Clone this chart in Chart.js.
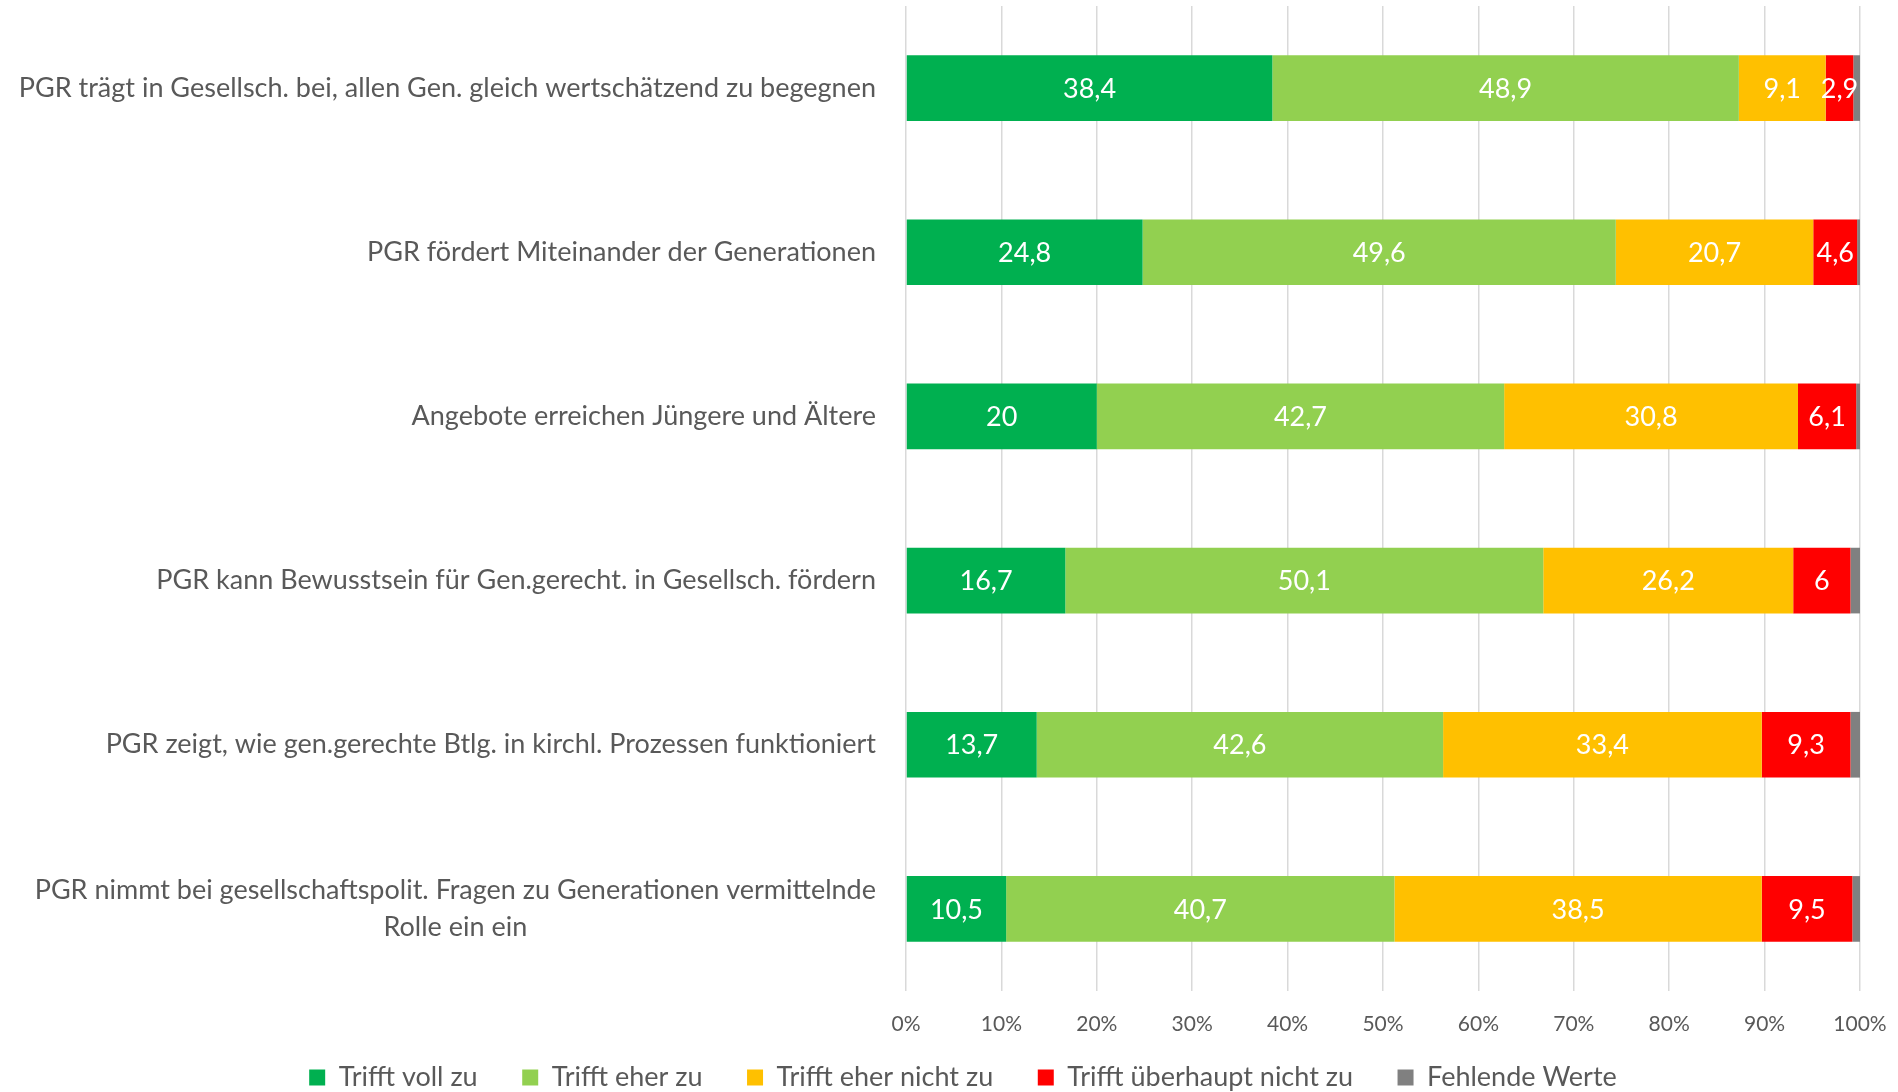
<!DOCTYPE html>
<html>
<head>
<meta charset="utf-8">
<script src="https://cdn.jsdelivr.net/npm/chart.js@4.4.1/dist/chart.umd.min.js"></script>
<style>
  html, body { margin: 0; padding: 0; background: #ffffff; }
  #wrap { width: 1898px; height: 1092px; }
</style>
</head>
<body>
<div id="wrap"><canvas id="c" width="1898" height="1092"></canvas></div>
<script>
const categories = [
  "PGR trägt in Gesellsch. bei, allen Gen. gleich wertschätzend zu begegnen",
  "PGR fördert Miteinander der Generationen",
  "Angebote erreichen Jüngere und Ältere",
  "PGR kann Bewusstsein für Gen.gerecht. in Gesellsch. fördern",
  "PGR zeigt, wie gen.gerechte Btlg. in kirchl. Prozessen funktioniert",
  ["PGR nimmt bei gesellschaftspolit. Fragen zu Generationen vermittelnde", "Rolle ein ein"]
];
const seriesNames = ["Trifft voll zu", "Trifft eher zu", "Trifft eher nicht zu", "Trifft überhaupt nicht zu", "Fehlende Werte"];
const trifftVollZu = [38.4, 24.8, 20, 16.7, 13.7, 10.5];
const trifftEherZu = [48.9, 49.6, 42.7, 50.1, 42.6, 40.7];
const trifftEherNichtZu = [9.1, 20.7, 30.8, 26.2, 33.4, 38.5];
const trifftUeberhauptNichtZu = [2.9, 4.6, 6.1, 6, 9.3, 9.5];
const fehlendeWerte = [0.7, 0.3, 0.4, 1.0, 1.0, 0.8];
const xTicks = [0, 10, 20, 30, 40, 50, 60, 70, 80, 90, 100];

const colors = ["#00B050", "#92D050", "#FFC000", "#FF0000", "#808080"];
const FONT = "Lato";
const labelColor = "#595959";
const PAD_LEFT = 28;
const PLOT_LEFT = 906;

const seriesValues = [trifftVollZu, trifftEherZu, trifftEherNichtZu, trifftUeberhauptNichtZu, fehlendeWerte];

const datasets = seriesValues.map((vals, i) => ({
  label: seriesNames[i],
  data: vals,
  backgroundColor: colors[i],
  borderWidth: 0,
  barPercentage: 0.4,
  categoryPercentage: 1.0
}));

const catLabelPlugin = {
  id: 'catLabels',
  afterDraw(chart) {
    const ctx = chart.ctx;
    const ys = chart.scales.y;
    const right = chart.chartArea.left - 30;
    ctx.save();
    ctx.font = `27px ${FONT}`;
    ctx.fillStyle = labelColor;
    ctx.textBaseline = 'middle';
    categories.forEach((lab, i) => {
      const y = ys.getPixelForTick(i);
      const lines = Array.isArray(lab) ? lab : [lab];
      const lh = 37.5;
      const widths = lines.map(l => ctx.measureText(l).width);
      const bw = Math.max(...widths);
      const cx = right - bw / 2;
      ctx.textAlign = 'center';
      lines.forEach((l, k) => {
        const yy = y + (k - (lines.length - 1) / 2) * lh;
        ctx.fillText(l, cx, yy);
      });
    });
    ctx.restore();
  }
};

const valueLabelPlugin = {
  id: 'valueLabels',
  afterDatasetsDraw(chart) {
    const ctx = chart.ctx;
    ctx.save();
    ctx.font = `27px ${FONT}`;
    ctx.fillStyle = '#ffffff';
    ctx.textAlign = 'center';
    ctx.textBaseline = 'middle';
    chart.data.datasets.forEach((ds, di) => {
      if (di === 4) return;
      const meta = chart.getDatasetMeta(di);
      meta.data.forEach((bar, j) => {
        const v = ds.data[j];
        const txt = String(v).replace('.', ',');
        ctx.fillText(txt, (bar.x + bar.base) / 2, bar.y + 1);
      });
    });
    ctx.restore();
  }
};

new Chart(document.getElementById('c'), {
  type: 'bar',
  data: { labels: categories, datasets },
  options: {
    indexAxis: 'y',
    responsive: false,
    animation: false,
    devicePixelRatio: 1,
    layout: { padding: { left: PAD_LEFT, right: 0, top: 6, bottom: -9 } },
    scales: {
      x: {
        stacked: true,
        min: 0,
        max: 100,
        afterBuildTicks: (scale) => { scale.ticks = xTicks.map(v => ({ value: v })); },
        afterFit: (scale) => { scale.height = 63; scale.paddingRight = 38; scale.paddingLeft = 0; },
        ticks: {
          callback: (v) => v + '%',
          color: labelColor,
          font: { family: FONT, size: 21 },
          padding: 21,
          maxRotation: 0
        },
        grid: { color: '#d9d9d9', lineWidth: 1.5, drawTicks: false },
        border: { display: false }
      },
      y: {
        stacked: true,
        ticks: { display: false },
        grid: { display: false },
        border: { display: false },
        afterFit: (scale) => { scale.width = PLOT_LEFT - PAD_LEFT; }
      }
    },
    plugins: {
      legend: {
        position: 'bottom',
        labels: {
          color: labelColor,
          font: { family: FONT, size: 27 },
          boxWidth: 16,
          boxHeight: 16,
          padding: 10,
          generateLabels: (chart) => {
            const items = Chart.defaults.plugins.legend.labels.generateLabels(chart);
            items.forEach((it, i) => {
              if (i < items.length - 1) it.text = it.text + '\u00A0\u00A0\u00A0\u00A0\u00A0';
            });
            return items;
          }
        }
      },
      tooltip: { enabled: false }
    }
  },
  plugins: [catLabelPlugin, valueLabelPlugin]
});
</script>
</body>
</html>
